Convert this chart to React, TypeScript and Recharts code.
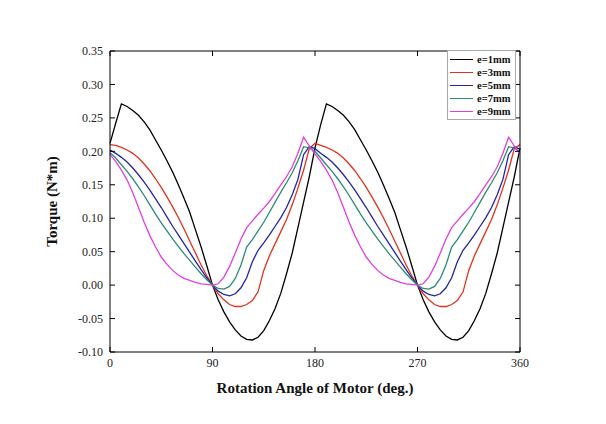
import { LineChart, Line, XAxis, YAxis } from 'recharts';

const ANGLES = [
  0, 5, 10, 15, 20, 25, 30, 35, 40, 45, 50, 55, 60, 65, 70, 75, 80, 85,
  90, 95, 100, 105, 110, 115, 120, 125, 130, 135, 140, 145, 150, 155, 160, 165, 170, 175,
  180, 185, 190, 195, 200, 205, 210, 215, 220, 225, 230, 235, 240, 245, 250, 255, 260, 265,
  270, 275, 280, 285, 290, 295, 300, 305, 310, 315, 320, 325, 330, 335, 340, 345, 350, 355,
  360,
];

const E1 = [
  0.212, 0.242, 0.271, 0.267, 0.261, 0.254, 0.244, 0.232, 0.217, 0.202, 0.186, 0.169, 0.15, 0.13, 0.109, 0.083, 0.057, 0.029,
  0.0, -0.022, -0.04, -0.055, -0.067, -0.076, -0.081, -0.082, -0.078, -0.068, -0.053, -0.035, -0.012, 0.017, 0.048, 0.086, 0.124, 0.162,
  0.205, 0.24, 0.271, 0.267, 0.261, 0.254, 0.244, 0.232, 0.217, 0.202, 0.186, 0.169, 0.15, 0.13, 0.109, 0.083, 0.057, 0.029,
  0.0, -0.022, -0.04, -0.055, -0.067, -0.076, -0.081, -0.082, -0.078, -0.068, -0.053, -0.035, -0.012, 0.017, 0.048, 0.086, 0.124, 0.162,
  0.205,
];

const E3 = [
  0.21, 0.209, 0.206, 0.202, 0.197, 0.19, 0.181, 0.171, 0.159, 0.146, 0.132, 0.117, 0.101, 0.084, 0.066, 0.048, 0.03, 0.014,
  0.0, -0.013, -0.022, -0.029, -0.032, -0.032, -0.029, -0.023, -0.01, 0.022, 0.044, 0.062, 0.08, 0.098, 0.12, 0.145, 0.172, 0.204,
  0.212, 0.209, 0.206, 0.202, 0.197, 0.19, 0.181, 0.171, 0.159, 0.146, 0.132, 0.117, 0.101, 0.084, 0.066, 0.048, 0.03, 0.014,
  0.0, -0.013, -0.022, -0.029, -0.032, -0.032, -0.029, -0.023, -0.01, 0.022, 0.044, 0.062, 0.08, 0.098, 0.12, 0.145, 0.172, 0.204,
  0.21,
];

const E5 = [
  0.202, 0.197, 0.191, 0.184, 0.175, 0.165, 0.154, 0.142, 0.129, 0.116, 0.102, 0.088, 0.075, 0.062, 0.049, 0.036, 0.023, 0.011,
  0.0, -0.009, -0.014, -0.016, -0.013, -0.004, 0.011, 0.035, 0.052, 0.063, 0.075, 0.088, 0.101, 0.116, 0.135, 0.158, 0.195, 0.207,
  0.204, 0.197, 0.191, 0.184, 0.175, 0.165, 0.154, 0.142, 0.129, 0.116, 0.102, 0.088, 0.075, 0.062, 0.049, 0.036, 0.023, 0.011,
  0.0, -0.009, -0.014, -0.016, -0.013, -0.004, 0.011, 0.035, 0.052, 0.063, 0.075, 0.088, 0.101, 0.116, 0.135, 0.158, 0.195, 0.207,
  0.203,
];

const E7 = [
  0.198, 0.19, 0.18, 0.17, 0.159, 0.147, 0.134, 0.12, 0.106, 0.093, 0.081, 0.069, 0.058, 0.047, 0.037, 0.027, 0.017, 0.008,
  0.0, -0.005, -0.006, -0.002, 0.01, 0.03, 0.057, 0.068, 0.081, 0.094, 0.109, 0.124, 0.139, 0.153, 0.168, 0.186, 0.207, 0.205,
  0.2, 0.19, 0.18, 0.17, 0.159, 0.147, 0.134, 0.12, 0.106, 0.093, 0.081, 0.069, 0.058, 0.047, 0.037, 0.027, 0.017, 0.008,
  0.0, -0.005, -0.006, -0.002, 0.01, 0.03, 0.057, 0.068, 0.081, 0.094, 0.109, 0.124, 0.139, 0.153, 0.168, 0.186, 0.207, 0.205,
  0.199,
];

const E9 = [
  0.195, 0.185, 0.172, 0.157, 0.138, 0.116, 0.094, 0.074, 0.057, 0.042, 0.031, 0.022, 0.015, 0.01, 0.007, 0.004, 0.002, 0.001,
  0.0, 0.002, 0.012, 0.028, 0.048, 0.069, 0.086, 0.096, 0.106, 0.115, 0.125, 0.137, 0.15, 0.162, 0.177, 0.197, 0.221, 0.208,
  0.196, 0.185, 0.172, 0.157, 0.138, 0.116, 0.094, 0.074, 0.057, 0.042, 0.031, 0.022, 0.015, 0.01, 0.007, 0.004, 0.002, 0.001,
  0.0, 0.002, 0.012, 0.028, 0.048, 0.069, 0.086, 0.096, 0.106, 0.115, 0.125, 0.137, 0.15, 0.162, 0.177, 0.197, 0.221, 0.208,
  0.196,
];

const X_TICKS = [0, 90, 180, 270, 360];
const Y_TICKS = [-0.1, -0.05, 0, 0.05, 0.1, 0.15, 0.2, 0.25, 0.3, 0.35];

const SERIES = [
  { key: 'e1', name: 'e=1mm', color: '#000000', values: E1 },
  { key: 'e3', name: 'e=3mm', color: '#e2321e', values: E3 },
  { key: 'e5', name: 'e=5mm', color: '#2424a8', values: E5 },
  { key: 'e7', name: 'e=7mm', color: '#2d8a78', values: E7 },
  { key: 'e9', name: 'e=9mm', color: '#e040e0', values: E9 },
];

const data = ANGLES.map((angle, i) => {
  const row: Record<string, number> = { angle };
  SERIES.forEach((s) => {
    row[s.key] = s.values[i];
  });
  return row;
});

const FONT = '"Liberation Serif", "Times New Roman", serif';
const tickStyle = { fill: '#222', fontSize: 12, fontFamily: FONT };

// legend sits inside the plot, top-right, like the original
function LegendBox() {
  return (
    <div
      style={{
        position: 'absolute',
        left: 447,
        top: 50,
        width: 64,
        border: '1px solid #aaa',
        background: '#fff',
        padding: '2px 1px 1px 2px',
        fontFamily: FONT,
        fontWeight: 700,
        fontSize: 10.5,
        lineHeight: '13px',
        color: '#111',
      }}
    >
      {SERIES.map((s) => (
        <div key={s.key} style={{ display: 'flex', alignItems: 'center' }}>
          <span
            style={{
              display: 'inline-block',
              width: 23,
              height: 0,
              borderTop: `1.3px solid ${s.color}`,
              marginRight: 4,
            }}
          />
          <span>{s.name}</span>
        </div>
      ))}
    </div>
  );
}

export default function App() {
  return (
    <div style={{ position: 'absolute', left: 0, top: 0, width: 606, height: 424, background: '#fff' }}>
      <LineChart
        width={606}
        height={424}
        data={data}
        margin={{ top: 50, right: 85, bottom: 42, left: 60 }}
      >
        <XAxis
          xAxisId="bottom"
          dataKey="angle"
          type="number"
          domain={[0, 360]}
          ticks={X_TICKS}
          height={30}
          stroke="#000"
          tickSize={-5}
          tickMargin={11}
          tick={tickStyle}
          label={{
            value: 'Rotation Angle of Motor (deg.)',
            position: 'bottom',
            offset: 0,
            style: { fontFamily: FONT, fontWeight: 700, fontSize: 15, fill: '#111' },
          }}
        />
        <XAxis
          xAxisId="top"
          dataKey="angle"
          type="number"
          orientation="top"
          domain={[0, 360]}
          ticks={X_TICKS}
          height={1}
          stroke="#000"
          tickSize={-5}
          tickFormatter={() => ''}
        />
        <YAxis
          yAxisId="left"
          domain={[-0.1, 0.35]}
          ticks={Y_TICKS}
          width={50}
          stroke="#000"
          tickSize={-5}
          tickMargin={12}
          tick={tickStyle}
          tickFormatter={(v: number) => v.toFixed(2)}
          label={{
            value: 'Torque (N*m)',
            angle: -90,
            position: 'insideLeft',
            offset: -8,
            style: { textAnchor: 'middle', fontFamily: FONT, fontWeight: 700, fontSize: 15, fill: '#111' },
          }}
        />
        <YAxis
          yAxisId="right"
          orientation="right"
          domain={[-0.1, 0.35]}
          ticks={Y_TICKS}
          width={1}
          stroke="#000"
          tickSize={-5}
          tickFormatter={() => ''}
        />
        {SERIES.map((s) => (
          <Line
            key={s.key}
            xAxisId="bottom"
            yAxisId="left"
            type="linear"
            dataKey={s.key}
            name={s.name}
            stroke={s.color}
            strokeWidth={1.3}
            dot={false}
            isAnimationActive={false}
          />
        ))}
        {/* invisible copy so the top and right frame axes get drawn */}
        <Line
          xAxisId="top"
          yAxisId="right"
          dataKey="e1"
          stroke="none"
          dot={false}
          activeDot={false}
          legendType="none"
          isAnimationActive={false}
        />
      </LineChart>
      <LegendBox />
    </div>
  );
}
